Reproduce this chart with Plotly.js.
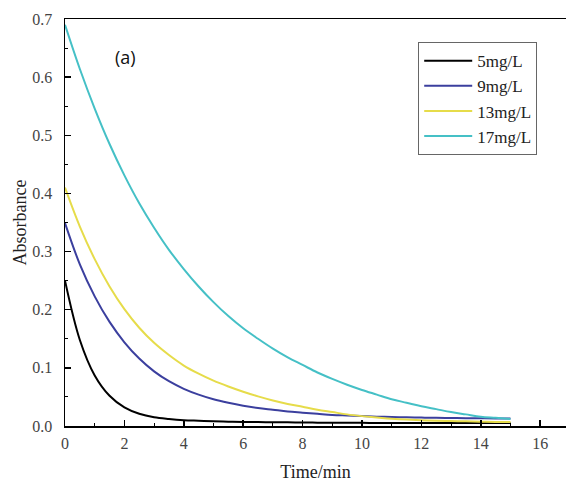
<!DOCTYPE html>
<html><head><meta charset="utf-8">
<script src="https://cdn.plot.ly/plotly-3.0.1.min.js"></script>
<style>html,body{margin:0;padding:0;background:#fff}#chart{width:566px;height:484px}</style>
</head><body><div id="chart"></div>
<script>
const seriesNames = ["5mg/L", "9mg/L", "13mg/L", "17mg/L"];
const time = [0, 0.5, 1, 1.5, 2, 2.5, 3, 3.5, 4, 4.5, 5, 5.5, 6, 6.5, 7, 7.5, 8, 8.5, 9, 9.5, 10, 10.5, 11, 11.5, 12, 12.5, 13, 13.5, 14, 14.5, 15];
const y5 = [0.25, 0.148, 0.087, 0.052, 0.032, 0.021, 0.015, 0.012, 0.010, 0.009, 0.008, 0.0075, 0.007, 0.0068, 0.0065, 0.0063, 0.006, 0.0058, 0.0056, 0.0055, 0.0054, 0.0053, 0.0052, 0.0051, 0.005, 0.005, 0.005, 0.005, 0.005, 0.005, 0.005];
const y9 = [0.349, 0.278, 0.223, 0.179, 0.144, 0.116, 0.094, 0.077, 0.064, 0.054, 0.046, 0.040, 0.035, 0.031, 0.028, 0.025, 0.023, 0.021, 0.019, 0.018, 0.017, 0.016, 0.0155, 0.015, 0.0145, 0.014, 0.0137, 0.0134, 0.0132, 0.013, 0.013];
const y13 = [0.41, 0.343, 0.287, 0.240, 0.201, 0.169, 0.143, 0.122, 0.104, 0.090, 0.078, 0.068, 0.059, 0.051, 0.044, 0.038, 0.033, 0.028, 0.024, 0.020, 0.017, 0.0145, 0.0125, 0.011, 0.010, 0.009, 0.0085, 0.008, 0.0075, 0.007, 0.007];
const y17 = [0.69, 0.614, 0.546, 0.485, 0.431, 0.383, 0.341, 0.303, 0.270, 0.240, 0.213, 0.189, 0.168, 0.150, 0.133, 0.118, 0.105, 0.092, 0.081, 0.071, 0.062, 0.054, 0.046, 0.040, 0.034, 0.029, 0.024, 0.020, 0.016, 0.014, 0.012];
const colors = ["#000000", "#3b3f9e", "#e6dc4a", "#45c0c6"];
const ys = [y5, y9, y13, y17];

const traces = seriesNames.map((n, i) => ({
  x: time, y: ys[i], name: n, type: "scatter", mode: "lines",
  line: {color: colors[i], width: 2, shape: "spline", smoothing: 1}
}));

const serif = "Liberation Serif, Times New Roman, serif";
const layout = {
  width: 566, height: 484,
  margin: {l: 65, r: 0, t: 19, b: 58},
  paper_bgcolor: "#fff", plot_bgcolor: "#fff",
  showlegend: true,
  legend: {x: 0.705, y: 0.943, xanchor: "left", yanchor: "top",
    bordercolor: "#666", borderwidth: 1, bgcolor: "#fff",
    font: {family: serif, size: 17, color: "#222"},
    itemwidth: 48, tracegroupgap: 0},
  xaxis: {range: [0, 16.87], dtick: 2, tick0: 0, showgrid: false, zeroline: false,
    showline: true, linecolor: "#000", linewidth: 1.5, mirror: true,
    ticks: "inside", ticklen: 6, tickwidth: 1.5, tickcolor: "#000",
    minor: {dtick: 1, ticks: "inside", ticklen: 3, tickwidth: 1, tickcolor: "#000"},
    ticklabelstandoff: 2,
    tickfont: {family: serif, size: 16, color: "#444"},
    title: {text: "Time/min", font: {family: serif, size: 18, color: "#222"}, standoff: 14}},
  yaxis: {range: [0, 0.7], dtick: 0.1, tick0: 0, tickformat: ".1f", showgrid: false, zeroline: false,
    showline: true, linecolor: "#000", linewidth: 1.5,
    ticks: "inside", ticklen: 6, tickwidth: 1.5, tickcolor: "#000",
    minor: {dtick: 0.05, ticks: "inside", ticklen: 3, tickwidth: 1, tickcolor: "#000"},
    ticklabelstandoff: 8,
    tickfont: {family: serif, size: 16, color: "#444"},
    title: {text: "Absorbance", font: {family: serif, size: 18, color: "#222"}, standoff: 1}},
  annotations: [{text: "(a)", xref: "paper", yref: "paper", x: 0.12, y: 0.907,
    xanchor: "center", yanchor: "middle", showarrow: false,
    font: {family: "Open Sans, sans-serif", size: 18, color: "#111"}}]
};
Plotly.newPlot("chart", traces, layout, {displayModeBar: false, staticPlot: true});
</script></body></html>
